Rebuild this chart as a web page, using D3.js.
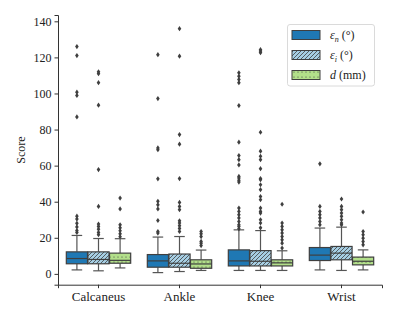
<!DOCTYPE html>
<html>
<head>
<meta charset="utf-8">
<script src="https://cdn.jsdelivr.net/npm/d3@7"></script>
<style>
  body { margin: 0; background: #fff; }
  text { font-family: "Liberation Serif", "DejaVu Serif", serif; fill: #222; }
</style>
</head>
<body>
<div class="chart"></div>
<script>
// box plot of score per site, three error measures

var sites = ["Calcaneus", "Ankle", "Knee", "Wrist"];
var seriesKeys = ["en", "ei", "d"];
var yTicks = [0, 20, 40, 60, 80, 100, 120, 140];

// [lower whisker, q1, median, q3, upper whisker] per site
var enBox = [[2.2, 5.6, 8.5, 12.2, 21.3], [0.7, 3.7, 7.2, 10.7, 20.4], [1.9, 4.4, 7.2, 13.3, 24.4], [2.2, 7.4, 10.4, 14.6, 25.4]];
var eiBox = [[1.7, 5.6, 8.0, 12.2, 19.6], [1.3, 3.7, 5.9, 11.0, 20.7], [1.9, 4.4, 7.0, 12.9, 24.0], [1.9, 7.8, 11.5, 15.2, 25.9]];
var dBox = [[3.3, 5.9, 7.5, 11.5, 19.5], [1.9, 3.1, 5.5, 7.8, 13.2], [1.9, 4.4, 6.1, 7.8, 12.8], [2.2, 5.0, 7.0, 9.3, 13.3]];

var enOut = [
  [23, 24, 26, 28, 30.4, 32, 87, 98.9, 100.7, 121, 126],
  [22.6, 23.5, 29.6, 36, 38.3, 40.2, 52.7, 68.8, 69.8, 97.2, 121.5],
  [25, 26.3, 27.2, 29, 31, 32.8, 34.6, 36.5, 50.9, 51.9, 53.1, 54, 60.4, 63.3, 65.6, 73, 93.3, 106, 107.8, 109.6, 111.5],
  [27.2, 29, 31, 32.8, 34.6, 37.4, 61]
];
var eiOut = [
  [21.7, 23, 24.8, 26.3, 27.6, 37.4, 57.8, 93.5, 106, 111, 112],
  [23.5, 25.2, 26.7, 28.2, 29.4, 35.6, 37.4, 39.6, 52.8, 71.9, 77.2, 120.7, 135.9],
  [25.5, 28.2, 30, 33.7, 34.6, 36.5, 41.1, 42.9, 46.7, 49.4, 52.2, 52.8, 58.3, 63.3, 65.2, 68, 78.5, 122.6, 123.5, 124.3],
  [27.2, 28.2, 30, 31.9, 33.7, 35.6, 37.4, 41.5]
];
var dOut = [
  [20.6, 22.2, 23.9, 25.5, 27.2, 36, 42],
  [15.7, 17, 18, 20.7, 22.2, 23.5],
  [14.3, 17, 18.9, 20.7, 22.6, 24.4, 26.3, 28.2, 38.6],
  [16.1, 17.9, 19.8, 21.7, 23.5, 34.3]
];

var boxes = { en: enBox, ei: eiBox, d: dBox };
var outs = { en: enOut, ei: eiOut, d: dOut };
var fills = { en: "#1f78b4", ei: "url(#hatch)", d: "url(#dots)" };

var svgWidth = 399, svgHeight = 319;
var edge = "#3f3f3f";

var svg = d3.select(".chart").append("svg")
  .attr("width", svgWidth)
  .attr("height", svgHeight);

// patterns for hatched / dotted boxes
var defs = svg.append("defs");
var hatch = defs.append("pattern")
  .attr("id", "hatch")
  .attr("patternUnits", "userSpaceOnUse")
  .attr("width", 4).attr("height", 4);
hatch.append("rect").attr("width", 4).attr("height", 4).attr("fill", "#a6cee3");
hatch.append("path")
  .attr("d", "M-1,1 l2,-2 M0,4 l4,-4 M3,5 l2,-2")
  .attr("stroke", edge).attr("stroke-width", 0.8);

var dots = defs.append("pattern")
  .attr("id", "dots")
  .attr("patternUnits", "userSpaceOnUse")
  .attr("width", 4).attr("height", 5);
dots.append("rect").attr("width", 4).attr("height", 5).attr("fill", "#b2df8a");
dots.append("circle").attr("cx", 2).attr("cy", 2).attr("r", 0.6).attr("fill", edge);

var x = d3.scaleBand()
  .domain(sites)
  .range([58, 382])
  .padding(0);

var xHue = d3.scaleBand()
  .domain(seriesKeys)
  .range([0, x.bandwidth() * 0.8]);

var y = d3.scaleLinear()
  .domain([-6, 143.5])
  .range([284.7, 15]);

// axes
var leftAxis = d3.axisLeft(y).tickValues(yTicks).tickSize(3.5).tickPadding(3);
var bottomAxis = d3.axisBottom(x).tickSize(3.5).tickPadding(4);

var gy = svg.append("g").attr("transform", "translate(58,0)").call(leftAxis);
var gx = svg.append("g").attr("transform", "translate(0,284.7)").call(bottomAxis);
[gx, gy].forEach(function(g) {
  g.selectAll("path, line").attr("stroke", "#333").attr("stroke-width", 1);
  g.selectAll("text").style("font-size", "12px").attr("fill", "#222");
});
gx.selectAll("text").style("font-size", "13px");

svg.append("text")
  .attr("transform", "translate(21,150) rotate(-90)")
  .attr("text-anchor", "middle")
  .attr("dy", "0.35em")
  .style("font-size", "12px")
  .text("Score");

// boxes
seriesKeys.forEach(function(key) {
  sites.forEach(function(site, i) {
    var s = boxes[key][i];
    var cx = x(site) + x.bandwidth() * 0.1 + xHue(key) + xHue.bandwidth() / 2;
    var bw = xHue.bandwidth() * 0.98;
    var g = svg.append("g");

    // whiskers
    g.append("line").attr("x1", cx).attr("x2", cx).attr("y1", y(s[3])).attr("y2", y(s[4]))
      .attr("stroke", "#555").attr("stroke-width", 1.2);
    g.append("line").attr("x1", cx).attr("x2", cx).attr("y1", y(s[1])).attr("y2", y(s[0]))
      .attr("stroke", "#555").attr("stroke-width", 1.2);
    [s[0], s[4]].forEach(function(v) {
      g.append("line").attr("x1", cx - bw / 4).attr("x2", cx + bw / 4)
        .attr("y1", y(v)).attr("y2", y(v))
        .attr("stroke", "#555").attr("stroke-width", 1.2);
    });

    g.append("rect")
      .attr("x", cx - bw / 2)
      .attr("width", bw)
      .attr("y", y(s[3]))
      .attr("height", y(s[1]) - y(s[3]))
      .attr("fill", fills[key])
      .attr("stroke", edge)
      .attr("stroke-width", 1.2);

    g.append("line").attr("x1", cx - bw / 2).attr("x2", cx + bw / 2)
      .attr("y1", y(s[2])).attr("y2", y(s[2]))
      .attr("stroke", edge).attr("stroke-width", 1.2);

    // outliers as diamonds
    g.selectAll("path.out")
      .data(outs[key][i])
      .enter()
      .append("path")
      .attr("class", "out")
      .attr("d", "M0,-2.6 L1.8,0 L0,2.6 L-1.8,0 Z")
      .attr("transform", function(v) { return "translate(" + cx + "," + y(v) + ")"; })
      .attr("fill", edge);
  });
});

// legend
var legend = svg.append("g");
legend.append("rect")
  .attr("x", 287.5).attr("y", 24.5)
  .attr("width", 87).attr("height", 61.5)
  .attr("rx", 2.5)
  .attr("fill", "#fff").attr("fill-opacity", 0.8)
  .attr("stroke", "#d0d0d0").attr("stroke-width", 0.8);

var legendLabels = [
  { key: "en", sym: "\u03b5", sub: "n", rest: " (\u00b0)" },
  { key: "ei", sym: "\u03b5", sub: "i", rest: " (\u00b0)" },
  { key: "d", sym: "d", sub: "", rest: " (mm)" }
];
legendLabels.forEach(function(l, i) {
  var cy = 35 + i * 20;
  legend.append("rect")
    .attr("x", 292).attr("y", cy - 4.5)
    .attr("width", 28).attr("height", 9)
    .attr("fill", fills[l.key])
    .attr("stroke", edge).attr("stroke-width", 1);
  var t = legend.append("text")
    .attr("x", 330).attr("y", cy)
    .attr("dy", "0.35em")
    .style("font-size", "12px");
  t.append("tspan").style("font-style", "italic").text(l.sym);
  if (l.sub) {
    t.append("tspan").style("font-style", "italic").style("font-size", "8px")
      .attr("dy", "3").text(l.sub);
    t.append("tspan").attr("dy", "-3").text(l.rest);
  } else {
    t.append("tspan").text(l.rest);
  }
});
</script>
</body>
</html>
